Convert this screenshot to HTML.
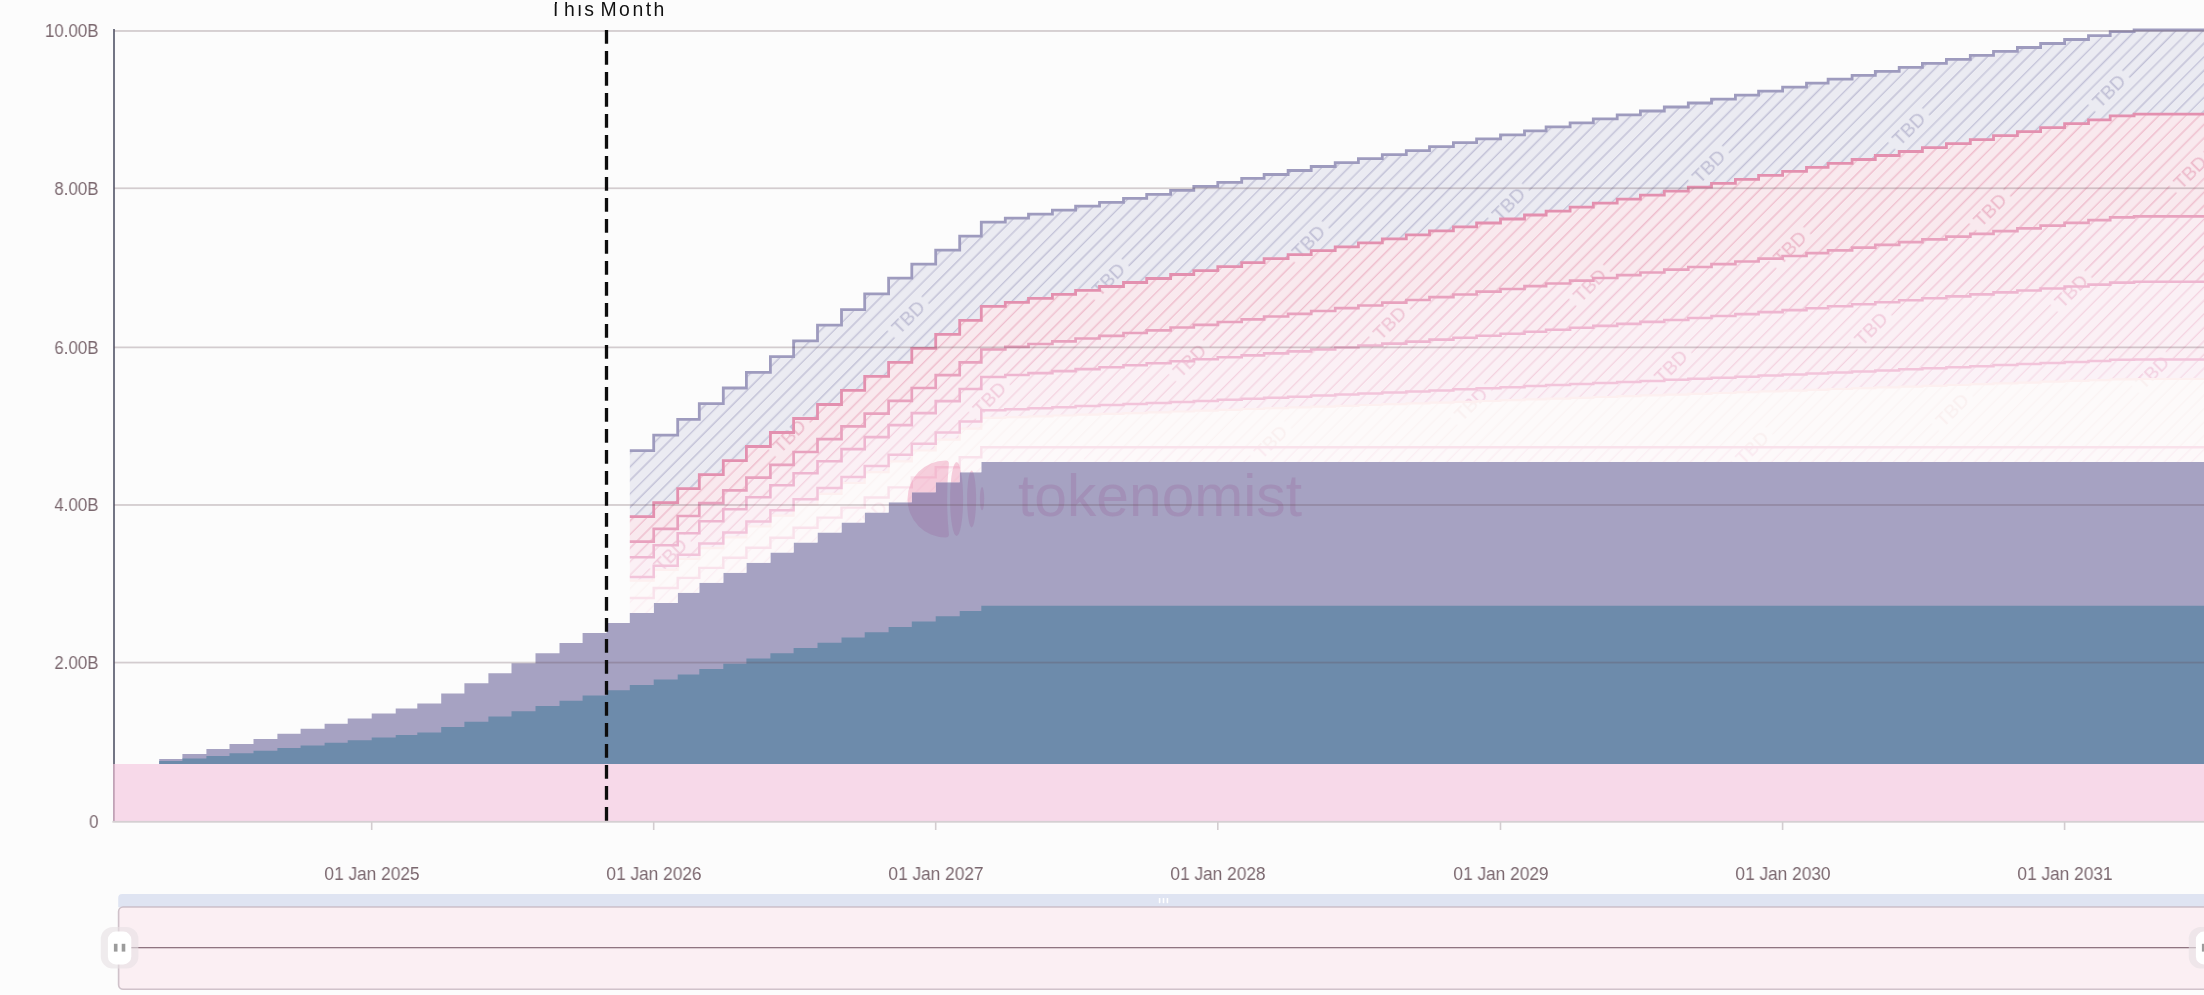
<!DOCTYPE html>
<html><head><meta charset="utf-8"><title>Vesting chart</title>
<style>
html,body{margin:0;padding:0;background:#fcfcfc;}
body{width:2204px;height:995px;position:relative;overflow:hidden;font-family:"Liberation Sans",sans-serif;}
.yl{will-change:transform;position:absolute;left:0;width:98.6px;text-align:right;font-size:18px;line-height:20px;transform:scaleX(0.94);transform-origin:right center;color:#7b686f;white-space:nowrap;}
.xl{will-change:transform;position:absolute;top:863.8px;width:120px;text-align:center;font-size:17.7px;transform:scaleX(0.978);line-height:20px;color:#7b686f;white-space:nowrap;}
.tmw{position:absolute;left:540px;top:2px;width:140px;height:24px;overflow:hidden;will-change:transform;}
.tm{position:absolute;left:9.76px;top:-3.9px;font-size:19.4px;line-height:22px;letter-spacing:2.5px;word-spacing:-3.8px;color:#111;white-space:nowrap;}
</style></head><body>
<svg width="2204" height="995" viewBox="0 0 2204 995" style="position:absolute;left:0;top:0">
<defs>
<pattern id="pL8" patternUnits="userSpaceOnUse" width="168.15" height="114.85" patternTransform="translate(908.9 316.5) rotate(-45) translate(-84.075 -57.425)">
<rect width="168.15" height="114.85" fill="#ebebf2"/>
<path d="M0 4.79H168.15M0 14.36H168.15M0 23.93H168.15M0 33.50H168.15M0 43.07H168.15M0 52.64H59.08M107.08 52.64H168.15M0 62.21H59.08M107.08 62.21H168.15M0 71.78H168.15M0 81.35H168.15M0 90.92H168.15M0 100.49H168.15M0 110.06H168.15" stroke="#c2c1d7" stroke-width="1.35" fill="none"/>
<text x="83.075" y="64.225" font-family="Liberation Sans, sans-serif" font-size="19" text-anchor="middle" fill="#c0bfd5">TBD</text>
</pattern>
<pattern id="pL7" patternUnits="userSpaceOnUse" width="168.15" height="114.85" patternTransform="translate(908.9 316.5) rotate(-45) translate(-84.075 -57.425)">
<rect width="168.15" height="114.85" fill="#f9e9ee"/>
<path d="M0 4.79H168.15M0 14.36H168.15M0 23.93H168.15M0 33.50H168.15M0 43.07H168.15M0 52.64H59.08M107.08 52.64H168.15M0 62.21H59.08M107.08 62.21H168.15M0 71.78H168.15M0 81.35H168.15M0 90.92H168.15M0 100.49H168.15M0 110.06H168.15" stroke="#efbdcd" stroke-width="1.35" fill="none"/>
<text x="83.075" y="64.225" font-family="Liberation Sans, sans-serif" font-size="19" text-anchor="middle" fill="#edb9ca">TBD</text>
</pattern>
<pattern id="pL6" patternUnits="userSpaceOnUse" width="168.15" height="114.85" patternTransform="translate(908.9 316.5) rotate(-45) translate(-84.075 -57.425)">
<rect width="168.15" height="114.85" fill="#faedf2"/>
<path d="M0 4.79H168.15M0 14.36H168.15M0 23.93H168.15M0 33.50H168.15M0 43.07H168.15M0 52.64H59.08M107.08 52.64H168.15M0 62.21H59.08M107.08 62.21H168.15M0 71.78H168.15M0 81.35H168.15M0 90.92H168.15M0 100.49H168.15M0 110.06H168.15" stroke="#f1c6d6" stroke-width="1.35" fill="none"/>
<text x="83.075" y="64.225" font-family="Liberation Sans, sans-serif" font-size="19" text-anchor="middle" fill="#efc3d4">TBD</text>
</pattern>
<pattern id="pL5" patternUnits="userSpaceOnUse" width="168.15" height="114.85" patternTransform="translate(908.9 316.5) rotate(-45) translate(-84.075 -57.425)">
<rect width="168.15" height="114.85" fill="#fbf0f5"/>
<path d="M0 4.79H168.15M0 14.36H168.15M0 23.93H168.15M0 33.50H168.15M0 43.07H168.15M0 52.64H59.08M107.08 52.64H168.15M0 62.21H59.08M107.08 62.21H168.15M0 71.78H168.15M0 81.35H168.15M0 90.92H168.15M0 100.49H168.15M0 110.06H168.15" stroke="#f4d2e0" stroke-width="1.3" fill="none"/>
<text x="83.075" y="64.225" font-family="Liberation Sans, sans-serif" font-size="19" text-anchor="middle" fill="#f2cbdc">TBD</text>
</pattern>
<pattern id="pL4" patternUnits="userSpaceOnUse" width="168.15" height="114.85" patternTransform="translate(908.9 316.5) rotate(-45) translate(-84.075 -57.425)">
<rect width="168.15" height="114.85" fill="#fbf2f7"/>
<path d="M0 4.79H168.15M0 14.36H168.15M0 23.93H168.15M0 33.50H168.15M0 43.07H168.15M0 52.64H59.08M107.08 52.64H168.15M0 62.21H59.08M107.08 62.21H168.15M0 71.78H168.15M0 81.35H168.15M0 90.92H168.15M0 100.49H168.15M0 110.06H168.15" stroke="#f6dae7" stroke-width="1.3" fill="none"/>
<text x="83.075" y="64.225" font-family="Liberation Sans, sans-serif" font-size="19" text-anchor="middle" fill="#f3d0e1">TBD</text>
</pattern>
<pattern id="pL3" patternUnits="userSpaceOnUse" width="168.15" height="114.85" patternTransform="translate(908.9 316.5) rotate(-45) translate(-84.075 -57.425)">
<rect width="168.15" height="114.85" fill="#fdfafa"/>
<path d="M0 4.79H168.15M0 14.36H168.15M0 23.93H168.15M0 33.50H168.15M0 43.07H168.15M0 52.64H59.08M107.08 52.64H168.15M0 62.21H59.08M107.08 62.21H168.15M0 71.78H168.15M0 81.35H168.15M0 90.92H168.15M0 100.49H168.15M0 110.06H168.15" stroke="#fbf4f4" stroke-width="1.3" fill="none"/>
<text x="83.075" y="64.225" font-family="Liberation Sans, sans-serif" font-size="19" text-anchor="middle" fill="#faf0f0">TBD</text>
</pattern>
<pattern id="pL2" patternUnits="userSpaceOnUse" width="168.15" height="114.85" patternTransform="translate(908.9 316.5) rotate(-45) translate(-84.075 -57.425)">
<rect width="168.15" height="114.85" fill="#fdf9fa"/>
<path d="M0 4.79H168.15M0 14.36H168.15M0 23.93H168.15M0 33.50H168.15M0 43.07H168.15M0 52.64H59.08M107.08 52.64H168.15M0 62.21H59.08M107.08 62.21H168.15M0 71.78H168.15M0 81.35H168.15M0 90.92H168.15M0 100.49H168.15M0 110.06H168.15" stroke="#fbeef3" stroke-width="1.3" fill="none"/>
<text x="83.075" y="64.225" font-family="Liberation Sans, sans-serif" font-size="19" text-anchor="middle" fill="#fae9f0">TBD</text>
</pattern>
<clipPath id="plot"><rect x="0" y="0" width="2204" height="995"/></clipPath>
</defs>
<rect width="2204" height="995" fill="#fcfcfc"/>
<rect x="113.1" y="29" width="1.8" height="792.6" fill="#646777"/>
<rect x="114" y="764.0" width="2098.0" height="57.6" fill="#f7d9e9"/>
<rect x="113.1" y="764.0" width="1.8" height="57.6" fill="#c9a9bd"/>
<path d="M159.2 759.1H182.4V754.0H206.4V749.0H229.5V743.9H253.5V738.9H277.4V733.8H300.6V728.7H324.6V723.7H347.7V718.6H371.7V713.6H395.7V708.5H417.3V703.4H441.2V693.4H464.4V683.3H488.4V673.3H511.5V663.2H535.5V653.2H559.5V643.1H582.6V633.1H606.6V623.0H629.8V612.9H653.7V602.9H677.7V592.8H699.3V582.8H723.3V572.7H746.4V562.7H770.4V552.6H793.6V542.6H817.5V532.5H841.5V522.5H864.7V512.4H888.6V502.3H911.8V492.3H935.7V482.2H959.7V472.2H981.3V462.1H1005.3V462.1H1028.5V462.1H1052.4V462.1H1075.6V462.1H1099.5V462.1H1123.5V462.1H1146.7V462.1H1170.6V462.1H1193.8V462.1H1217.8V462.1H1241.7V462.1H1264.1V462.1H1288.1V462.1H1311.2V462.1H1335.2V462.1H1358.4V462.1H1382.3V462.1H1406.3V462.1H1429.5V462.1H1453.4V462.1H1476.6V462.1H1500.5V462.1H1524.5V462.1H1546.1V462.1H1570.1V462.1H1593.3V462.1H1617.2V462.1H1640.4V462.1H1664.3V462.1H1688.3V462.1H1711.5V462.1H1735.4V462.1H1758.6V462.1H1782.6V462.1H1806.5V462.1H1828.1V462.1H1852.1V462.1H1875.3V462.1H1899.2V462.1H1922.4V462.1H1946.4V462.1H1970.3V462.1H1993.5V462.1H2017.4V462.1H2040.6V462.1H2064.6V462.1H2088.5V462.1H2110.2V462.1H2134.1V462.1H2212.0V764.0H159.2Z" fill="#a6a2c2"/>
<path d="M159.2 761.1H182.4V758.5H206.4V755.9H229.5V753.3H253.5V750.7H277.4V748.1H300.6V745.4H324.6V742.8H347.7V740.2H371.7V737.6H395.7V735.0H417.3V732.4H441.2V727.1H464.4V721.8H488.4V716.6H511.5V711.3H535.5V706.0H559.5V700.7H582.6V695.5H606.6V690.2H629.8V684.9H653.7V679.6H677.7V674.4H699.3V669.1H723.3V663.8H746.4V658.5H770.4V653.3H793.6V648.0H817.5V642.7H841.5V637.4H864.7V632.2H888.6V626.9H911.8V621.6H935.7V616.3H959.7V611.1H981.3V605.8H1005.3V605.8H1028.5V605.8H1052.4V605.8H1075.6V605.8H1099.5V605.8H1123.5V605.8H1146.7V605.8H1170.6V605.8H1193.8V605.8H1217.8V605.8H1241.7V605.8H1264.1V605.8H1288.1V605.8H1311.2V605.8H1335.2V605.8H1358.4V605.8H1382.3V605.8H1406.3V605.8H1429.5V605.8H1453.4V605.8H1476.6V605.8H1500.5V605.8H1524.5V605.8H1546.1V605.8H1570.1V605.8H1593.3V605.8H1617.2V605.8H1640.4V605.8H1664.3V605.8H1688.3V605.8H1711.5V605.8H1735.4V605.8H1758.6V605.8H1782.6V605.8H1806.5V605.8H1828.1V605.8H1852.1V605.8H1875.3V605.8H1899.2V605.8H1922.4V605.8H1946.4V605.8H1970.3V605.8H1993.5V605.8H2017.4V605.8H2040.6V605.8H2064.6V605.8H2088.5V605.8H2110.2V605.8H2134.1V605.8H2212.0V764.0H159.2Z" fill="#6d8bab"/>
<path d="M629.8 598.0H653.7V588.0H677.7V577.9H699.3V567.9H723.3V557.8H746.4V547.8H770.4V537.7H793.6V527.7H817.5V517.6H841.5V507.6H864.7V497.5H888.6V487.4H911.8V477.4H935.7V467.3H959.7V457.3H981.3V447.2H1005.3V447.2H1028.5V447.2H1052.4V447.2H1075.6V447.2H1099.5V447.2H1123.5V447.2H1146.7V447.2H1170.6V447.2H1193.8V447.2H1217.8V447.2H1241.7V447.2H1264.1V447.2H1288.1V447.2H1311.2V447.2H1335.2V447.2H1358.4V447.2H1382.3V447.2H1406.3V447.2H1429.5V447.2H1453.4V447.2H1476.6V447.2H1500.5V447.2H1524.5V447.2H1546.1V447.2H1570.1V447.2H1593.3V447.2H1617.2V447.2H1640.4V447.2H1664.3V447.2H1688.3V447.2H1711.5V447.2H1735.4V447.2H1758.6V447.2H1782.6V447.2H1806.5V447.2H1828.1V447.2H1852.1V447.2H1875.3V447.2H1899.2V447.2H1922.4V447.2H1946.4V447.2H1970.3V447.2H1993.5V447.2H2017.4V447.2H2040.6V447.2H2064.6V447.2H2088.5V447.2H2110.2V447.2H2134.1V447.2H2212.0L2212.0 462.1H2134.1V462.1H2110.2V462.1H2088.5V462.1H2064.6V462.1H2040.6V462.1H2017.4V462.1H1993.5V462.1H1970.3V462.1H1946.4V462.1H1922.4V462.1H1899.2V462.1H1875.3V462.1H1852.1V462.1H1828.1V462.1H1806.5V462.1H1782.6V462.1H1758.6V462.1H1735.4V462.1H1711.5V462.1H1688.3V462.1H1664.3V462.1H1640.4V462.1H1617.2V462.1H1593.3V462.1H1570.1V462.1H1546.1V462.1H1524.5V462.1H1500.5V462.1H1476.6V462.1H1453.4V462.1H1429.5V462.1H1406.3V462.1H1382.3V462.1H1358.4V462.1H1335.2V462.1H1311.2V462.1H1288.1V462.1H1264.1V462.1H1241.7V462.1H1217.8V462.1H1193.8V462.1H1170.6V462.1H1146.7V462.1H1123.5V462.1H1099.5V462.1H1075.6V462.1H1052.4V462.1H1028.5V462.1H1005.3V462.1H981.3V472.2H959.7V482.2H935.7V492.3H911.8V502.3H888.6V512.4H864.7V522.5H841.5V532.5H817.5V542.6H793.6V552.6H770.4V562.7H746.4V572.7H723.3V582.8H699.3V592.8H677.7V602.9H653.7V612.9H629.8Z" fill="url(#pL2)"/>
<path d="M629.8 580.7H653.7V569.9H677.7V559.0H699.3V548.2H723.3V537.3H746.4V526.5H770.4V515.6H793.6V504.7H817.5V493.9H841.5V483.0H864.7V472.2H888.6V461.3H911.8V450.5H935.7V439.6H959.7V428.7H981.3V417.9H1005.3V417.1H1028.5V416.3H1052.4V415.5H1075.6V414.7H1099.5V413.9H1123.5V413.1H1146.7V412.3H1170.6V411.5H1193.8V410.7H1217.8V409.8H1241.7V409.0H1264.1V408.2H1288.1V407.4H1311.2V406.6H1335.2V405.8H1358.4V405.0H1382.3V404.2H1406.3V403.4H1429.5V402.6H1453.4V401.8H1476.6V401.0H1500.5V400.2H1524.5V399.4H1546.1V398.6H1570.1V397.8H1593.3V397.0H1617.2V396.2H1640.4V395.4H1664.3V394.6H1688.3V393.8H1711.5V393.0H1735.4V392.2H1758.6V391.4H1782.6V390.6H1806.5V389.8H1828.1V389.0H1852.1V388.2H1875.3V387.4H1899.2V386.6H1922.4V385.8H1946.4V385.0H1970.3V384.2H1993.5V383.4H2017.4V382.6H2040.6V381.7H2064.6V380.9H2088.5V380.1H2110.2V379.3H2134.1V379.0H2212.0L2212.0 447.2H2134.1V447.2H2110.2V447.2H2088.5V447.2H2064.6V447.2H2040.6V447.2H2017.4V447.2H1993.5V447.2H1970.3V447.2H1946.4V447.2H1922.4V447.2H1899.2V447.2H1875.3V447.2H1852.1V447.2H1828.1V447.2H1806.5V447.2H1782.6V447.2H1758.6V447.2H1735.4V447.2H1711.5V447.2H1688.3V447.2H1664.3V447.2H1640.4V447.2H1617.2V447.2H1593.3V447.2H1570.1V447.2H1546.1V447.2H1524.5V447.2H1500.5V447.2H1476.6V447.2H1453.4V447.2H1429.5V447.2H1406.3V447.2H1382.3V447.2H1358.4V447.2H1335.2V447.2H1311.2V447.2H1288.1V447.2H1264.1V447.2H1241.7V447.2H1217.8V447.2H1193.8V447.2H1170.6V447.2H1146.7V447.2H1123.5V447.2H1099.5V447.2H1075.6V447.2H1052.4V447.2H1028.5V447.2H1005.3V447.2H981.3V457.3H959.7V467.3H935.7V477.4H911.8V487.4H888.6V497.5H864.7V507.6H841.5V517.6H817.5V527.7H793.6V537.7H770.4V547.8H746.4V557.8H723.3V567.9H699.3V577.9H677.7V588.0H653.7V598.0H629.8Z" fill="url(#pL3)"/>
<path d="M629.8 576.9H653.7V565.8H677.7V554.7H699.3V543.6H723.3V532.5H746.4V521.4H770.4V510.3H793.6V499.2H817.5V488.1H841.5V477.0H864.7V465.9H888.6V454.8H911.8V443.7H935.7V432.6H959.7V421.4H981.3V410.3H1005.3V409.3H1028.5V408.2H1052.4V407.2H1075.6V406.1H1099.5V405.1H1123.5V404.0H1146.7V403.0H1170.6V401.9H1193.8V400.9H1217.8V399.8H1241.7V398.8H1264.1V397.7H1288.1V396.7H1311.2V395.6H1335.2V394.6H1358.4V393.5H1382.3V392.5H1406.3V391.4H1429.5V390.4H1453.4V389.3H1476.6V388.2H1500.5V387.2H1524.5V386.1H1546.1V385.1H1570.1V384.0H1593.3V383.0H1617.2V381.9H1640.4V380.9H1664.3V379.8H1688.3V378.8H1711.5V377.7H1735.4V376.7H1758.6V375.6H1782.6V374.6H1806.5V373.5H1828.1V372.5H1852.1V371.4H1875.3V370.4H1899.2V369.3H1922.4V368.3H1946.4V367.2H1970.3V366.2H1993.5V365.1H2017.4V364.0H2040.6V363.0H2064.6V361.9H2088.5V360.9H2110.2V359.8H2134.1V359.4H2212.0L2212.0 379.0H2134.1V379.3H2110.2V380.1H2088.5V380.9H2064.6V381.7H2040.6V382.6H2017.4V383.4H1993.5V384.2H1970.3V385.0H1946.4V385.8H1922.4V386.6H1899.2V387.4H1875.3V388.2H1852.1V389.0H1828.1V389.8H1806.5V390.6H1782.6V391.4H1758.6V392.2H1735.4V393.0H1711.5V393.8H1688.3V394.6H1664.3V395.4H1640.4V396.2H1617.2V397.0H1593.3V397.8H1570.1V398.6H1546.1V399.4H1524.5V400.2H1500.5V401.0H1476.6V401.8H1453.4V402.6H1429.5V403.4H1406.3V404.2H1382.3V405.0H1358.4V405.8H1335.2V406.6H1311.2V407.4H1288.1V408.2H1264.1V409.0H1241.7V409.8H1217.8V410.7H1193.8V411.5H1170.6V412.3H1146.7V413.1H1123.5V413.9H1099.5V414.7H1075.6V415.5H1052.4V416.3H1028.5V417.1H1005.3V417.9H981.3V428.7H959.7V439.6H935.7V450.5H911.8V461.3H888.6V472.2H864.7V483.0H841.5V493.9H817.5V504.7H793.6V515.6H770.4V526.5H746.4V537.3H723.3V548.2H699.3V559.0H677.7V569.9H653.7V580.7H629.8Z" fill="url(#pL4)"/>
<path d="M629.8 557.3H653.7V545.3H677.7V533.3H699.3V521.3H723.3V509.3H746.4V497.2H770.4V485.2H793.6V473.2H817.5V461.2H841.5V449.1H864.7V437.1H888.6V425.1H911.8V413.1H935.7V401.1H959.7V389.0H981.3V377.0H1005.3V375.0H1028.5V373.1H1052.4V371.1H1075.6V369.1H1099.5V367.2H1123.5V365.2H1146.7V363.2H1170.6V361.3H1193.8V359.3H1217.8V357.3H1241.7V355.4H1264.1V353.4H1288.1V351.4H1311.2V349.5H1335.2V347.5H1358.4V345.5H1382.3V343.6H1406.3V341.6H1429.5V339.6H1453.4V337.7H1476.6V335.7H1500.5V333.7H1524.5V331.8H1546.1V329.8H1570.1V327.8H1593.3V325.9H1617.2V323.9H1640.4V321.9H1664.3V320.0H1688.3V318.0H1711.5V316.0H1735.4V314.1H1758.6V312.1H1782.6V310.1H1806.5V308.2H1828.1V306.2H1852.1V304.2H1875.3V302.3H1899.2V300.3H1922.4V298.3H1946.4V296.4H1970.3V294.4H1993.5V292.4H2017.4V290.5H2040.6V288.5H2064.6V286.5H2088.5V284.6H2110.2V282.6H2134.1V281.8H2212.0L2212.0 359.4H2134.1V359.8H2110.2V360.9H2088.5V361.9H2064.6V363.0H2040.6V364.0H2017.4V365.1H1993.5V366.2H1970.3V367.2H1946.4V368.3H1922.4V369.3H1899.2V370.4H1875.3V371.4H1852.1V372.5H1828.1V373.5H1806.5V374.6H1782.6V375.6H1758.6V376.7H1735.4V377.7H1711.5V378.8H1688.3V379.8H1664.3V380.9H1640.4V381.9H1617.2V383.0H1593.3V384.0H1570.1V385.1H1546.1V386.1H1524.5V387.2H1500.5V388.2H1476.6V389.3H1453.4V390.4H1429.5V391.4H1406.3V392.5H1382.3V393.5H1358.4V394.6H1335.2V395.6H1311.2V396.7H1288.1V397.7H1264.1V398.8H1241.7V399.8H1217.8V400.9H1193.8V401.9H1170.6V403.0H1146.7V404.0H1123.5V405.1H1099.5V406.1H1075.6V407.2H1052.4V408.2H1028.5V409.3H1005.3V410.3H981.3V421.4H959.7V432.6H935.7V443.7H911.8V454.8H888.6V465.9H864.7V477.0H841.5V488.1H817.5V499.2H793.6V510.3H770.4V521.4H746.4V532.5H723.3V543.6H699.3V554.7H677.7V565.8H653.7V576.9H629.8Z" fill="url(#pL5)"/>
<path d="M629.8 541.6H653.7V528.8H677.7V516.0H699.3V503.2H723.3V490.4H746.4V477.6H770.4V464.8H793.6V452.0H817.5V439.2H841.5V426.4H864.7V413.6H888.6V400.8H911.8V388.0H935.7V375.1H959.7V362.3H981.3V349.5H1005.3V346.8H1028.5V344.0H1052.4V341.3H1075.6V338.5H1099.5V335.8H1123.5V333.0H1146.7V330.3H1170.6V327.5H1193.8V324.8H1217.8V322.0H1241.7V319.3H1264.1V316.5H1288.1V313.8H1311.2V311.0H1335.2V308.2H1358.4V305.5H1382.3V302.7H1406.3V300.0H1429.5V297.2H1453.4V294.5H1476.6V291.7H1500.5V289.0H1524.5V286.2H1546.1V283.5H1570.1V280.7H1593.3V278.0H1617.2V275.2H1640.4V272.5H1664.3V269.7H1688.3V267.0H1711.5V264.2H1735.4V261.5H1758.6V258.7H1782.6V256.0H1806.5V253.2H1828.1V250.4H1852.1V247.7H1875.3V244.9H1899.2V242.2H1922.4V239.4H1946.4V236.7H1970.3V233.9H1993.5V231.2H2017.4V228.4H2040.6V225.7H2064.6V222.9H2088.5V220.2H2110.2V217.4H2134.1V216.3H2212.0L2212.0 281.8H2134.1V282.6H2110.2V284.6H2088.5V286.5H2064.6V288.5H2040.6V290.5H2017.4V292.4H1993.5V294.4H1970.3V296.4H1946.4V298.3H1922.4V300.3H1899.2V302.3H1875.3V304.2H1852.1V306.2H1828.1V308.2H1806.5V310.1H1782.6V312.1H1758.6V314.1H1735.4V316.0H1711.5V318.0H1688.3V320.0H1664.3V321.9H1640.4V323.9H1617.2V325.9H1593.3V327.8H1570.1V329.8H1546.1V331.8H1524.5V333.7H1500.5V335.7H1476.6V337.7H1453.4V339.6H1429.5V341.6H1406.3V343.6H1382.3V345.5H1358.4V347.5H1335.2V349.5H1311.2V351.4H1288.1V353.4H1264.1V355.4H1241.7V357.3H1217.8V359.3H1193.8V361.3H1170.6V363.2H1146.7V365.2H1123.5V367.2H1099.5V369.1H1075.6V371.1H1052.4V373.1H1028.5V375.0H1005.3V377.0H981.3V389.0H959.7V401.1H935.7V413.1H911.8V425.1H888.6V437.1H864.7V449.1H841.5V461.2H817.5V473.2H793.6V485.2H770.4V497.2H746.4V509.3H723.3V521.3H699.3V533.3H677.7V545.3H653.7V557.3H629.8Z" fill="url(#pL6)"/>
<path d="M629.8 516.6H653.7V502.6H677.7V488.6H699.3V474.6H723.3V460.6H746.4V446.5H770.4V432.5H793.6V418.5H817.5V404.5H841.5V390.4H864.7V376.4H888.6V362.4H911.8V348.4H935.7V334.3H959.7V320.3H981.3V306.3H1005.3V302.3H1028.5V298.4H1052.4V294.4H1075.6V290.4H1099.5V286.5H1123.5V282.5H1146.7V278.5H1170.6V274.5H1193.8V270.6H1217.8V266.6H1241.7V262.6H1264.1V258.7H1288.1V254.7H1311.2V250.7H1335.2V246.8H1358.4V242.8H1382.3V238.8H1406.3V234.9H1429.5V230.9H1453.4V226.9H1476.6V223.0H1500.5V219.0H1524.5V215.0H1546.1V211.1H1570.1V207.1H1593.3V203.1H1617.2V199.1H1640.4V195.2H1664.3V191.2H1688.3V187.2H1711.5V183.3H1735.4V179.3H1758.6V175.3H1782.6V171.4H1806.5V167.4H1828.1V163.4H1852.1V159.5H1875.3V155.5H1899.2V151.5H1922.4V147.6H1946.4V143.6H1970.3V139.6H1993.5V135.6H2017.4V131.7H2040.6V127.7H2064.6V123.7H2088.5V119.8H2110.2V115.8H2134.1V114.2H2212.0L2212.0 216.3H2134.1V217.4H2110.2V220.2H2088.5V222.9H2064.6V225.7H2040.6V228.4H2017.4V231.2H1993.5V233.9H1970.3V236.7H1946.4V239.4H1922.4V242.2H1899.2V244.9H1875.3V247.7H1852.1V250.4H1828.1V253.2H1806.5V256.0H1782.6V258.7H1758.6V261.5H1735.4V264.2H1711.5V267.0H1688.3V269.7H1664.3V272.5H1640.4V275.2H1617.2V278.0H1593.3V280.7H1570.1V283.5H1546.1V286.2H1524.5V289.0H1500.5V291.7H1476.6V294.5H1453.4V297.2H1429.5V300.0H1406.3V302.7H1382.3V305.5H1358.4V308.2H1335.2V311.0H1311.2V313.8H1288.1V316.5H1264.1V319.3H1241.7V322.0H1217.8V324.8H1193.8V327.5H1170.6V330.3H1146.7V333.0H1123.5V335.8H1099.5V338.5H1075.6V341.3H1052.4V344.0H1028.5V346.8H1005.3V349.5H981.3V362.3H959.7V375.1H935.7V388.0H911.8V400.8H888.6V413.6H864.7V426.4H841.5V439.2H817.5V452.0H793.6V464.8H770.4V477.6H746.4V490.4H723.3V503.2H699.3V516.0H677.7V528.8H653.7V541.6H629.8Z" fill="url(#pL7)"/>
<path d="M629.8 450.7H653.7V435.1H677.7V419.4H699.3V403.7H723.3V388.0H746.4V372.3H770.4V356.6H793.6V340.9H817.5V325.2H841.5V309.6H864.7V293.9H888.6V278.2H911.8V264.2H935.7V250.1H959.7V236.1H981.3V222.1H1005.3V218.1H1028.5V214.2H1052.4V210.2H1075.6V206.2H1099.5V202.3H1123.5V198.3H1146.7V194.3H1170.6V190.3H1193.8V186.4H1217.8V182.4H1241.7V178.4H1264.1V174.5H1288.1V170.5H1311.2V166.5H1335.2V162.6H1358.4V158.6H1382.3V154.6H1406.3V150.7H1429.5V146.7H1453.4V142.7H1476.6V138.8H1500.5V134.8H1524.5V130.8H1546.1V126.9H1570.1V122.9H1593.3V118.9H1617.2V114.9H1640.4V111.0H1664.3V107.0H1688.3V103.0H1711.5V99.1H1735.4V95.1H1758.6V91.1H1782.6V87.2H1806.5V83.2H1828.1V79.2H1852.1V75.3H1875.3V71.3H1899.2V67.3H1922.4V63.4H1946.4V59.4H1970.3V55.4H1993.5V51.4H2017.4V47.5H2040.6V43.5H2064.6V39.5H2088.5V35.6H2110.2V31.6H2134.1V30.0H2212.0L2212.0 114.2H2134.1V115.8H2110.2V119.8H2088.5V123.7H2064.6V127.7H2040.6V131.7H2017.4V135.6H1993.5V139.6H1970.3V143.6H1946.4V147.6H1922.4V151.5H1899.2V155.5H1875.3V159.5H1852.1V163.4H1828.1V167.4H1806.5V171.4H1782.6V175.3H1758.6V179.3H1735.4V183.3H1711.5V187.2H1688.3V191.2H1664.3V195.2H1640.4V199.1H1617.2V203.1H1593.3V207.1H1570.1V211.1H1546.1V215.0H1524.5V219.0H1500.5V223.0H1476.6V226.9H1453.4V230.9H1429.5V234.9H1406.3V238.8H1382.3V242.8H1358.4V246.8H1335.2V250.7H1311.2V254.7H1288.1V258.7H1264.1V262.6H1241.7V266.6H1217.8V270.6H1193.8V274.5H1170.6V278.5H1146.7V282.5H1123.5V286.5H1099.5V290.4H1075.6V294.4H1052.4V298.4H1028.5V302.3H1005.3V306.3H981.3V320.3H959.7V334.3H935.7V348.4H911.8V362.4H888.6V376.4H864.7V390.4H841.5V404.5H817.5V418.5H793.6V432.5H770.4V446.5H746.4V460.6H723.3V474.6H699.3V488.6H677.7V502.6H653.7V516.6H629.8Z" fill="url(#pL8)"/>
<path d="M629.8 598.0H653.7V588.0H677.7V577.9H699.3V567.9H723.3V557.8H746.4V547.8H770.4V537.7H793.6V527.7H817.5V517.6H841.5V507.6H864.7V497.5H888.6V487.4H911.8V477.4H935.7V467.3H959.7V457.3H981.3V447.2H1005.3V447.2H1028.5V447.2H1052.4V447.2H1075.6V447.2H1099.5V447.2H1123.5V447.2H1146.7V447.2H1170.6V447.2H1193.8V447.2H1217.8V447.2H1241.7V447.2H1264.1V447.2H1288.1V447.2H1311.2V447.2H1335.2V447.2H1358.4V447.2H1382.3V447.2H1406.3V447.2H1429.5V447.2H1453.4V447.2H1476.6V447.2H1500.5V447.2H1524.5V447.2H1546.1V447.2H1570.1V447.2H1593.3V447.2H1617.2V447.2H1640.4V447.2H1664.3V447.2H1688.3V447.2H1711.5V447.2H1735.4V447.2H1758.6V447.2H1782.6V447.2H1806.5V447.2H1828.1V447.2H1852.1V447.2H1875.3V447.2H1899.2V447.2H1922.4V447.2H1946.4V447.2H1970.3V447.2H1993.5V447.2H2017.4V447.2H2040.6V447.2H2064.6V447.2H2088.5V447.2H2110.2V447.2H2134.1V447.2H2212.0" fill="none" stroke="#f9e2eb" stroke-width="2.4" stroke-linejoin="miter"/>
<path d="M629.8 580.7H653.7V569.9H677.7V559.0H699.3V548.2H723.3V537.3H746.4V526.5H770.4V515.6H793.6V504.7H817.5V493.9H841.5V483.0H864.7V472.2H888.6V461.3H911.8V450.5H935.7V439.6H959.7V428.7H981.3V417.9H1005.3V417.1H1028.5V416.3H1052.4V415.5H1075.6V414.7H1099.5V413.9H1123.5V413.1H1146.7V412.3H1170.6V411.5H1193.8V410.7H1217.8V409.8H1241.7V409.0H1264.1V408.2H1288.1V407.4H1311.2V406.6H1335.2V405.8H1358.4V405.0H1382.3V404.2H1406.3V403.4H1429.5V402.6H1453.4V401.8H1476.6V401.0H1500.5V400.2H1524.5V399.4H1546.1V398.6H1570.1V397.8H1593.3V397.0H1617.2V396.2H1640.4V395.4H1664.3V394.6H1688.3V393.8H1711.5V393.0H1735.4V392.2H1758.6V391.4H1782.6V390.6H1806.5V389.8H1828.1V389.0H1852.1V388.2H1875.3V387.4H1899.2V386.6H1922.4V385.8H1946.4V385.0H1970.3V384.2H1993.5V383.4H2017.4V382.6H2040.6V381.7H2064.6V380.9H2088.5V380.1H2110.2V379.3H2134.1V379.0H2212.0" fill="none" stroke="#fdf0f0" stroke-width="2.2" stroke-linejoin="miter"/>
<path d="M629.8 576.9H653.7V565.8H677.7V554.7H699.3V543.6H723.3V532.5H746.4V521.4H770.4V510.3H793.6V499.2H817.5V488.1H841.5V477.0H864.7V465.9H888.6V454.8H911.8V443.7H935.7V432.6H959.7V421.4H981.3V410.3H1005.3V409.3H1028.5V408.2H1052.4V407.2H1075.6V406.1H1099.5V405.1H1123.5V404.0H1146.7V403.0H1170.6V401.9H1193.8V400.9H1217.8V399.8H1241.7V398.8H1264.1V397.7H1288.1V396.7H1311.2V395.6H1335.2V394.6H1358.4V393.5H1382.3V392.5H1406.3V391.4H1429.5V390.4H1453.4V389.3H1476.6V388.2H1500.5V387.2H1524.5V386.1H1546.1V385.1H1570.1V384.0H1593.3V383.0H1617.2V381.9H1640.4V380.9H1664.3V379.8H1688.3V378.8H1711.5V377.7H1735.4V376.7H1758.6V375.6H1782.6V374.6H1806.5V373.5H1828.1V372.5H1852.1V371.4H1875.3V370.4H1899.2V369.3H1922.4V368.3H1946.4V367.2H1970.3V366.2H1993.5V365.1H2017.4V364.0H2040.6V363.0H2064.6V361.9H2088.5V360.9H2110.2V359.8H2134.1V359.4H2212.0" fill="none" stroke="#f2c4da" stroke-width="2.5" stroke-linejoin="miter"/>
<path d="M629.8 557.3H653.7V545.3H677.7V533.3H699.3V521.3H723.3V509.3H746.4V497.2H770.4V485.2H793.6V473.2H817.5V461.2H841.5V449.1H864.7V437.1H888.6V425.1H911.8V413.1H935.7V401.1H959.7V389.0H981.3V377.0H1005.3V375.0H1028.5V373.1H1052.4V371.1H1075.6V369.1H1099.5V367.2H1123.5V365.2H1146.7V363.2H1170.6V361.3H1193.8V359.3H1217.8V357.3H1241.7V355.4H1264.1V353.4H1288.1V351.4H1311.2V349.5H1335.2V347.5H1358.4V345.5H1382.3V343.6H1406.3V341.6H1429.5V339.6H1453.4V337.7H1476.6V335.7H1500.5V333.7H1524.5V331.8H1546.1V329.8H1570.1V327.8H1593.3V325.9H1617.2V323.9H1640.4V321.9H1664.3V320.0H1688.3V318.0H1711.5V316.0H1735.4V314.1H1758.6V312.1H1782.6V310.1H1806.5V308.2H1828.1V306.2H1852.1V304.2H1875.3V302.3H1899.2V300.3H1922.4V298.3H1946.4V296.4H1970.3V294.4H1993.5V292.4H2017.4V290.5H2040.6V288.5H2064.6V286.5H2088.5V284.6H2110.2V282.6H2134.1V281.8H2212.0" fill="none" stroke="#eeb6d0" stroke-width="2.6" stroke-linejoin="miter"/>
<path d="M629.8 541.6H653.7V528.8H677.7V516.0H699.3V503.2H723.3V490.4H746.4V477.6H770.4V464.8H793.6V452.0H817.5V439.2H841.5V426.4H864.7V413.6H888.6V400.8H911.8V388.0H935.7V375.1H959.7V362.3H981.3V349.5H1005.3V346.8H1028.5V344.0H1052.4V341.3H1075.6V338.5H1099.5V335.8H1123.5V333.0H1146.7V330.3H1170.6V327.5H1193.8V324.8H1217.8V322.0H1241.7V319.3H1264.1V316.5H1288.1V313.8H1311.2V311.0H1335.2V308.2H1358.4V305.5H1382.3V302.7H1406.3V300.0H1429.5V297.2H1453.4V294.5H1476.6V291.7H1500.5V289.0H1524.5V286.2H1546.1V283.5H1570.1V280.7H1593.3V278.0H1617.2V275.2H1640.4V272.5H1664.3V269.7H1688.3V267.0H1711.5V264.2H1735.4V261.5H1758.6V258.7H1782.6V256.0H1806.5V253.2H1828.1V250.4H1852.1V247.7H1875.3V244.9H1899.2V242.2H1922.4V239.4H1946.4V236.7H1970.3V233.9H1993.5V231.2H2017.4V228.4H2040.6V225.7H2064.6V222.9H2088.5V220.2H2110.2V217.4H2134.1V216.3H2212.0" fill="none" stroke="#e8a2be" stroke-width="2.7" stroke-linejoin="miter"/>
<path d="M629.8 516.6H653.7V502.6H677.7V488.6H699.3V474.6H723.3V460.6H746.4V446.5H770.4V432.5H793.6V418.5H817.5V404.5H841.5V390.4H864.7V376.4H888.6V362.4H911.8V348.4H935.7V334.3H959.7V320.3H981.3V306.3H1005.3V302.3H1028.5V298.4H1052.4V294.4H1075.6V290.4H1099.5V286.5H1123.5V282.5H1146.7V278.5H1170.6V274.5H1193.8V270.6H1217.8V266.6H1241.7V262.6H1264.1V258.7H1288.1V254.7H1311.2V250.7H1335.2V246.8H1358.4V242.8H1382.3V238.8H1406.3V234.9H1429.5V230.9H1453.4V226.9H1476.6V223.0H1500.5V219.0H1524.5V215.0H1546.1V211.1H1570.1V207.1H1593.3V203.1H1617.2V199.1H1640.4V195.2H1664.3V191.2H1688.3V187.2H1711.5V183.3H1735.4V179.3H1758.6V175.3H1782.6V171.4H1806.5V167.4H1828.1V163.4H1852.1V159.5H1875.3V155.5H1899.2V151.5H1922.4V147.6H1946.4V143.6H1970.3V139.6H1993.5V135.6H2017.4V131.7H2040.6V127.7H2064.6V123.7H2088.5V119.8H2110.2V115.8H2134.1V114.2H2212.0" fill="none" stroke="#e390af" stroke-width="2.8" stroke-linejoin="miter"/>
<path d="M629.8 450.7H653.7V435.1H677.7V419.4H699.3V403.7H723.3V388.0H746.4V372.3H770.4V356.6H793.6V340.9H817.5V325.2H841.5V309.6H864.7V293.9H888.6V278.2H911.8V264.2H935.7V250.1H959.7V236.1H981.3V222.1H1005.3V218.1H1028.5V214.2H1052.4V210.2H1075.6V206.2H1099.5V202.3H1123.5V198.3H1146.7V194.3H1170.6V190.3H1193.8V186.4H1217.8V182.4H1241.7V178.4H1264.1V174.5H1288.1V170.5H1311.2V166.5H1335.2V162.6H1358.4V158.6H1382.3V154.6H1406.3V150.7H1429.5V146.7H1453.4V142.7H1476.6V138.8H1500.5V134.8H1524.5V130.8H1546.1V126.9H1570.1V122.9H1593.3V118.9H1617.2V114.9H1640.4V111.0H1664.3V107.0H1688.3V103.0H1711.5V99.1H1735.4V95.1H1758.6V91.1H1782.6V87.2H1806.5V83.2H1828.1V79.2H1852.1V75.3H1875.3V71.3H1899.2V67.3H1922.4V63.4H1946.4V59.4H1970.3V55.4H1993.5V51.4H2017.4V47.5H2040.6V43.5H2064.6V39.5H2088.5V35.6H2110.2V31.6H2134.1V30.0H2212.0" fill="none" stroke="#9e9bbe" stroke-width="2.8" stroke-linejoin="miter"/>
<clipPath id="cin"><path d="M159.2 759.1H182.4V754.0H206.4V749.0H229.5V743.9H253.5V738.9H277.4V733.8H300.6V728.7H324.6V723.7H347.7V718.6H371.7V713.6H395.7V708.5H417.3V703.4H441.2V693.4H464.4V683.3H488.4V673.3H511.5V663.2H535.5V653.2H559.5V643.1H582.6V633.1H606.6V623.0H629.8V612.9H653.7V602.9H677.7V592.8H699.3V582.8H723.3V572.7H746.4V562.7H770.4V552.6H793.6V542.6H817.5V532.5H841.5V522.5H864.7V512.4H888.6V502.3H911.8V492.3H935.7V482.2H959.7V472.2H981.3V462.1H1005.3V462.1H1028.5V462.1H1052.4V462.1H1075.6V462.1H1099.5V462.1H1123.5V462.1H1146.7V462.1H1170.6V462.1H1193.8V462.1H1217.8V462.1H1241.7V462.1H1264.1V462.1H1288.1V462.1H1311.2V462.1H1335.2V462.1H1358.4V462.1H1382.3V462.1H1406.3V462.1H1429.5V462.1H1453.4V462.1H1476.6V462.1H1500.5V462.1H1524.5V462.1H1546.1V462.1H1570.1V462.1H1593.3V462.1H1617.2V462.1H1640.4V462.1H1664.3V462.1H1688.3V462.1H1711.5V462.1H1735.4V462.1H1758.6V462.1H1782.6V462.1H1806.5V462.1H1828.1V462.1H1852.1V462.1H1875.3V462.1H1899.2V462.1H1922.4V462.1H1946.4V462.1H1970.3V462.1H1993.5V462.1H2017.4V462.1H2040.6V462.1H2064.6V462.1H2088.5V462.1H2110.2V462.1H2134.1V462.1H2212.0V764.0H159.2Z"/></clipPath>
<clipPath id="cout"><path clip-rule="evenodd" d="M0 0H2204V995H0Z M159.2 759.1H182.4V754.0H206.4V749.0H229.5V743.9H253.5V738.9H277.4V733.8H300.6V728.7H324.6V723.7H347.7V718.6H371.7V713.6H395.7V708.5H417.3V703.4H441.2V693.4H464.4V683.3H488.4V673.3H511.5V663.2H535.5V653.2H559.5V643.1H582.6V633.1H606.6V623.0H629.8V612.9H653.7V602.9H677.7V592.8H699.3V582.8H723.3V572.7H746.4V562.7H770.4V552.6H793.6V542.6H817.5V532.5H841.5V522.5H864.7V512.4H888.6V502.3H911.8V492.3H935.7V482.2H959.7V472.2H981.3V462.1H1005.3V462.1H1028.5V462.1H1052.4V462.1H1075.6V462.1H1099.5V462.1H1123.5V462.1H1146.7V462.1H1170.6V462.1H1193.8V462.1H1217.8V462.1H1241.7V462.1H1264.1V462.1H1288.1V462.1H1311.2V462.1H1335.2V462.1H1358.4V462.1H1382.3V462.1H1406.3V462.1H1429.5V462.1H1453.4V462.1H1476.6V462.1H1500.5V462.1H1524.5V462.1H1546.1V462.1H1570.1V462.1H1593.3V462.1H1617.2V462.1H1640.4V462.1H1664.3V462.1H1688.3V462.1H1711.5V462.1H1735.4V462.1H1758.6V462.1H1782.6V462.1H1806.5V462.1H1828.1V462.1H1852.1V462.1H1875.3V462.1H1899.2V462.1H1922.4V462.1H1946.4V462.1H1970.3V462.1H1993.5V462.1H2017.4V462.1H2040.6V462.1H2064.6V462.1H2088.5V462.1H2110.2V462.1H2134.1V462.1H2212.0V764.0H159.2Z"/></clipPath>
<g clip-path="url(#cin)" fill="rgb(140,60,130)" fill-opacity="0.17"><path d="M945.5 460.6Q949.2 460.6 948.9 464Q945.4 499 948.9 534Q949.2 537.4 945.5 537.4A38 38.4 0 0 1 945.5 460.6Z"/><ellipse cx="956.6" cy="499" rx="6.5" ry="37"/><ellipse cx="971.6" cy="499" rx="4.5" ry="28.4"/><ellipse cx="982.05" cy="498.7" rx="2.15" ry="11.6"/><text x="1018" y="515.8" font-family="Liberation Sans, sans-serif" font-size="58.5" textLength="284" lengthAdjust="spacingAndGlyphs">tokenomist</text></g>
<g clip-path="url(#cout)" fill="rgb(225,60,120)" fill-opacity="0.23"><path d="M945.5 460.6Q949.2 460.6 948.9 464Q945.4 499 948.9 534Q949.2 537.4 945.5 537.4A38 38.4 0 0 1 945.5 460.6Z"/><ellipse cx="956.6" cy="499" rx="6.5" ry="37"/><ellipse cx="971.6" cy="499" rx="4.5" ry="28.4"/><ellipse cx="982.05" cy="498.7" rx="2.15" ry="11.6"/><text x="1018" y="515.8" font-family="Liberation Sans, sans-serif" font-size="58.5" textLength="284" lengthAdjust="spacingAndGlyphs">tokenomist</text></g>
<rect x="114" y="30.1" width="2098.0" height="1.75" fill="rgb(100,75,85)" fill-opacity="0.27"/>
<rect x="114" y="187.4" width="2098.0" height="1.75" fill="rgb(100,75,85)" fill-opacity="0.27"/>
<rect x="114" y="346.5" width="2098.0" height="1.75" fill="rgb(100,75,85)" fill-opacity="0.27"/>
<rect x="114" y="504.1" width="2098.0" height="1.75" fill="rgb(100,75,85)" fill-opacity="0.27"/>
<rect x="114" y="661.7" width="2098.0" height="1.75" fill="rgb(100,75,85)" fill-opacity="0.27"/>
<rect x="112.4" y="820.9" width="2099.6" height="1.8" fill="#d5cfd2"/>
<rect x="370.9" y="822" width="1.6" height="8" fill="#d3cdd0"/>
<rect x="652.9" y="822" width="1.6" height="8" fill="#d3cdd0"/>
<rect x="934.9" y="822" width="1.6" height="8" fill="#d3cdd0"/>
<rect x="1217.0" y="822" width="1.6" height="8" fill="#d3cdd0"/>
<rect x="1499.7" y="822" width="1.6" height="8" fill="#d3cdd0"/>
<rect x="1781.8" y="822" width="1.6" height="8" fill="#d3cdd0"/>
<rect x="2063.8" y="822" width="1.6" height="8" fill="#d3cdd0"/>
<line x1="606.5" y1="30.1" x2="606.5" y2="821.5" stroke="#0d0d0d" stroke-width="3.3" stroke-dasharray="13.7 7.3"/>
<path d="M118.2 907.3V898a4 4 0 0 1 4-4H2212.0V907.3Z" fill="#dfe4f2"/>
<rect x="118.6" y="907.0" width="2090.9" height="82.2" rx="4.5" fill="#fbeff3" stroke="#c4b4be" stroke-opacity="0.8" stroke-width="1.6"/>
<rect x="120" y="947.0" width="2092.0" height="1.3" fill="#8f7480"/>
<rect x="1158.8" y="898" width="1.6" height="5.2" rx="0.6" fill="#ffffff"/>
<rect x="1162.7" y="898" width="1.6" height="5.2" rx="0.6" fill="#ffffff"/>
<rect x="1166.6" y="898" width="1.6" height="5.2" rx="0.6" fill="#ffffff"/>
<rect x="100.8" y="927.1" width="37.6" height="41.4" rx="12" fill="#e6e0e3" fill-opacity="0.62"/>
<rect x="107.9" y="931.6" width="23.4" height="32.8" rx="8" fill="#ffffff"/>
<rect x="113.9" y="943.8" width="3.6" height="7.8" fill="#9c9c9c"/>
<rect x="121.7" y="943.8" width="3.6" height="7.8" fill="#9c9c9c"/>
<rect x="2188.8" y="927.1" width="37.6" height="41.4" rx="12" fill="#e6e0e3" fill-opacity="0.62"/>
<rect x="2195.9" y="931.6" width="23.4" height="32.8" rx="8" fill="#ffffff"/>
<rect x="2201.9" y="943.8" width="3.6" height="7.8" fill="#9c9c9c"/>
<rect x="2209.7" y="943.8" width="3.6" height="7.8" fill="#9c9c9c"/>
</svg>
<div class="yl" style="top:21.2px">10.00B</div>
<div class="yl" style="top:178.5px">8.00B</div>
<div class="yl" style="top:337.6px">6.00B</div>
<div class="yl" style="top:495.2px">4.00B</div>
<div class="yl" style="top:652.8px">2.00B</div>
<div class="yl" style="top:812.0px">0</div>
<div class="xl" style="left:311.7px">01 Jan 2025</div>
<div class="xl" style="left:593.7px">01 Jan 2026</div>
<div class="xl" style="left:875.7px">01 Jan 2027</div>
<div class="xl" style="left:1157.8px">01 Jan 2028</div>
<div class="xl" style="left:1440.5px">01 Jan 2029</div>
<div class="xl" style="left:1722.6px">01 Jan 2030</div>
<div class="xl" style="left:2004.6px">01 Jan 2031</div>
<div class="tmw"><div class="tm">This Month</div><div style="position:absolute;left:8px;top:0;width:6.6px;height:1.6px;background:#fcfcfc"></div><div style="position:absolute;left:17.4px;top:0;width:5.6px;height:1.6px;background:#fcfcfc"></div><div style="position:absolute;left:37.5px;top:0;width:5px;height:2.4px;background:#fcfcfc"></div></div>
</body></html>
